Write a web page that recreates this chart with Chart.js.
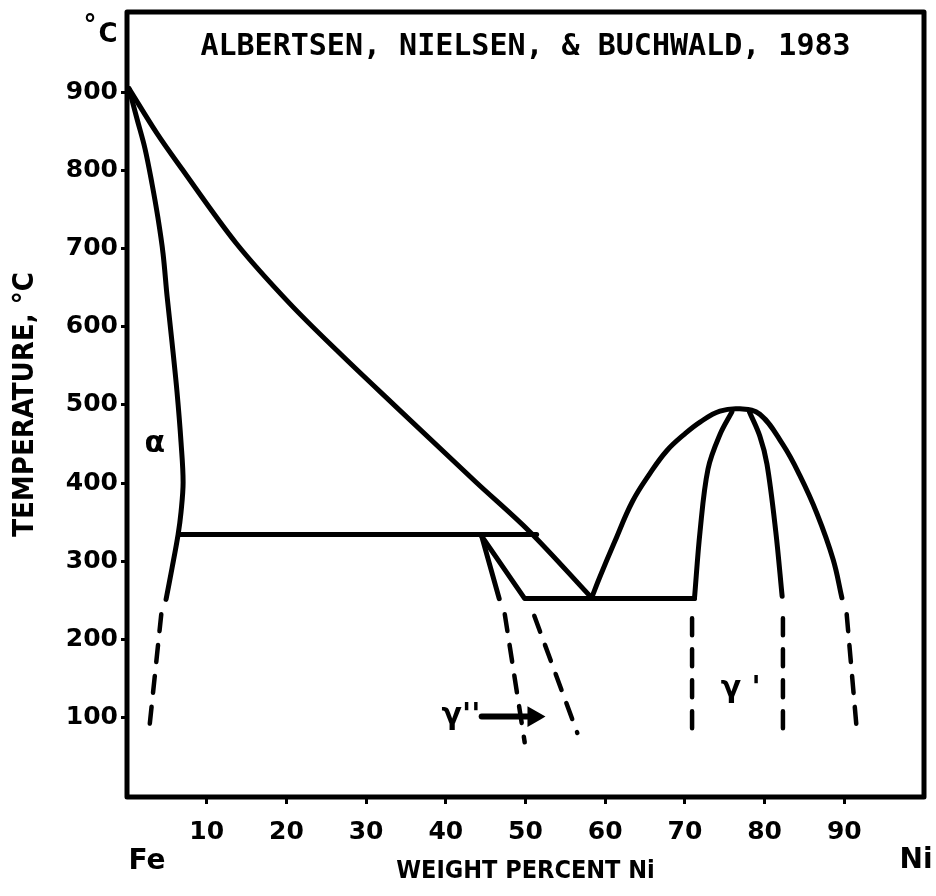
<!DOCTYPE html>
<html>
<head>
<meta charset="utf-8">
<script src="https://cdn.jsdelivr.net/npm/chart.js@4/dist/chart.umd.min.js"></script>
<style>
  html, body { margin: 0; padding: 0; background: #fff; }
  #wrap { width: 936px; height: 896px; }
</style>
</head>
<body>
<div id="wrap"><canvas id="phase-chart"></canvas></div>
<script>
// Fe-Ni phase diagram, low temperature part (weight % Ni vs temperature)
const xTickValues = [0, 10, 20, 30, 40, 50, 60, 70, 80, 90, 100];
const xTickLabels = ['Fe', '10', '20', '30', '40', '50', '60', '70', '80', '90', 'Ni'];
const yTickValues = [100, 200, 300, 400, 500, 600, 700, 800, 900];

// gamma / (alpha + gamma) boundary, from the top down to the eutectoid
const gammaBoundNi = [0.25, 3.8, 6.9, 13.7, 20.4, 26.6, 33.5, 43.8, 50.5, 58.3];
const gammaBoundT  = [905, 847, 802, 707, 630, 567, 500, 401, 338, 253];

// alpha / (alpha + gamma) boundary
const alphaBoundNi = [0.25, 1.26, 2.26, 3.14, 3.89, 4.52, 5.03, 5.65, 6.28, 6.78, 7.04, 6.78, 6.41, 5.65, 4.9];
const alphaBoundT  = [905, 866, 828, 783, 739, 694, 639, 580, 516, 452, 401, 363, 334, 291, 251];
const alphaDashNi = [4.3, 2.8];
const alphaDashT  = [232, 86];

// monotectoid tie line
const tieNi = [6.5, 51.4];
const tieT  = [334, 334];

// gamma'' (FeNi) boundaries
const fenLeftNi = [44.5, 46.7];
const fenLeftT  = [332, 252];
const fenLeftDashNi = [47.4, 49.9];
const fenLeftDashT  = [232, 68];
const fenRightNi = [44.5, 49.9, 71.2];
const fenRightT  = [332, 252, 252];
const fenRightDashNi = [51.1, 56.5];
const fenRightDashT  = [230, 80];

// gamma' (FeNi3) ordering dome
const domeNi = [58.3, 59.3, 61.2, 63.4, 65.6, 67.7, 70.0, 71.9, 74.4, 76.9, 79.4, 82.3, 84.4, 86.6, 88.6, 89.7];
const domeT  = [253, 279, 325, 376, 412, 441, 463, 478, 492, 495, 488, 449, 410, 360, 302, 253];
const domeDashNi = [90.3, 91.6];
const domeDashT  = [232, 80];
const innerLeftNi = [71.2, 71.9, 72.9, 74.4, 75.9];
const innerLeftT  = [252, 338, 418, 462, 491];
const innerLeftDashNi = [70.9, 70.9];
const innerLeftDashT  = [227, 86];
const innerRightNi = [78.1, 79.4, 80.3, 81.4, 82.2];
const innerRightT  = [491, 460, 424, 338, 255];
const innerRightDashNi = [82.3, 82.3];
const innerRightDashT  = [227, 81];

// arrow under the gamma'' label
const arrowNi = [44.5, 51.0];
const arrowT  = [101, 101];

// phase labels: text, Ni, T
const phaseLabels = [
  { text: 'α', ni: 3.5, t: 450 },
  { text: "γ''", ni: 41.9, t: 102 },
  { text: "γ '", ni: 77.0, t: 136 }
];

const pts = (xs, ys) => xs.map((x, i) => ({ x, y: ys[i] }));

const solid = (xs, ys) => ({
  data: pts(xs, ys),
  showLine: true,
  borderColor: '#000',
  borderWidth: 5,
  borderCapStyle: 'round',
  borderJoinStyle: 'round',
  pointRadius: 0,
  tension: 0
});

// smooth curves that run left to right
const curve = (xs, ys) => ({ ...solid(xs, ys), cubicInterpolationMode: 'monotone' });
// steep or arched curves
const bent = (xs, ys, t) => ({ ...solid(xs, ys), tension: t || 0.35 });

const dashed = (xs, ys) => ({
  ...solid(xs, ys),
  borderWidth: 4.5,
  borderDash: [17, 14]
});

const arrow = {
  ...solid(arrowNi, arrowT),
  borderWidth: 6,
  pointRadius: [0, 6],
  pointStyle: 'triangle',
  rotation: 90,
  pointBackgroundColor: '#000',
  pointBorderColor: '#000'
};

const datasets = [
  curve(gammaBoundNi, gammaBoundT),
  bent(alphaBoundNi, alphaBoundT),
  dashed(alphaDashNi, alphaDashT),
  solid(tieNi, tieT),
  solid(fenLeftNi, fenLeftT),
  dashed(fenLeftDashNi, fenLeftDashT),
  solid(fenRightNi, fenRightT),
  dashed(fenRightDashNi, fenRightDashT),
  bent(domeNi, domeT, 0.4),
  dashed(domeDashNi, domeDashT),
  bent(innerLeftNi, innerLeftT),
  dashed(innerLeftDashNi, innerLeftDashT),
  bent(innerRightNi, innerRightT),
  dashed(innerRightDashNi, innerRightDashT),
  arrow
];

const tickFont = { family: "'DejaVu Sans'", weight: 'bold', size: 25 };

// frame, heading and extra text
const decorations = {
  id: 'decorations',
  afterDatasetsDraw(chart) {
    const { ctx, chartArea: a, scales: { x, y } } = chart;
    ctx.save();
    ctx.strokeStyle = '#000';
    ctx.lineWidth = 5;
    ctx.lineJoin = 'round';
    ctx.strokeRect(a.left, a.top, a.right - a.left, a.bottom - a.top);

    ctx.fillStyle = '#000';
    ctx.textAlign = 'center';
    ctx.textBaseline = 'alphabetic';
    ctx.font = "bold 30px 'DejaVu Sans Mono'";
    ctx.fillText('ALBERTSEN, NIELSEN, & BUCHWALD, 1983', (a.left + a.right) / 2, a.top + 43);

    ctx.font = "bold 26px 'DejaVu Sans'";
    ctx.fillText('°', a.left - 37, a.top + 21);
    ctx.fillText('C', a.left - 19, a.top + 30);

    ctx.font = "bold 28px 'DejaVu Sans'";
    ctx.fillText(xTickLabels[0], x.getPixelForValue(xTickValues[0]) + 20, a.bottom + 72);
    ctx.fillText(xTickLabels[xTickLabels.length - 1], x.getPixelForValue(xTickValues[xTickValues.length - 1]) - 8, a.bottom + 71);

    ctx.font = "bold 30px 'DejaVu Sans'";
    ctx.textBaseline = 'middle';
    phaseLabels.forEach(l => {
      ctx.fillText(l.text, x.getPixelForValue(l.ni), y.getPixelForValue(l.t));
    });
    ctx.restore();
  }
};

new Chart(document.getElementById('phase-chart'), {
  type: 'scatter',
  data: { datasets },
  plugins: [decorations],
  options: {
    responsive: true,
    maintainAspectRatio: false,
    animation: false,
    layout: { padding: { top: 7, right: 12, left: 0, bottom: 0 } },
    plugins: { legend: { display: false }, tooltip: { enabled: false } },
    scales: {
      x: {
        type: 'linear',
        min: 0,
        max: 100,
        afterBuildTicks: scale => { scale.ticks = xTickValues.map(v => ({ value: v })); },
        afterFit: scale => {
          scale.height = 99;
          scale.paddingLeft = 0;
          scale.paddingRight = 0;
        },
        ticks: {
          color: '#000',
          font: tickFont,
          padding: 13,
          maxRotation: 0,
          callback: (v, i) => (i === 0 || i === xTickValues.length - 1) ? '' : xTickLabels[i]
        },
        grid: {
          drawOnChartArea: false,
          tickLength: 7,
          tickWidth: 3,
          color: c => (c.tick && (c.tick.value === 0 || c.tick.value === 100)) ? 'rgba(0,0,0,0)' : '#000'
        },
        border: { display: false },
        title: {
          display: true,
          text: 'WEIGHT PERCENT Ni',
          color: '#000',
          font: { family: "'DejaVu Sans'", weight: 'bold condensed', size: 25 },
          padding: { top: 0, bottom: 10 }
        }
      },
      y: {
        type: 'linear',
        min: -2,
        max: 1003,
        afterBuildTicks: scale => { scale.ticks = yTickValues.map(v => ({ value: v })); },
        afterFit: scale => {
          scale.width = 127;
          scale.paddingTop = 0;
          scale.paddingBottom = 0;
        },
        ticks: { color: '#000', font: { ...tickFont, lineHeight: 0.4 }, padding: 3 },
        grid: { drawOnChartArea: false, tickLength: 6, tickWidth: 3, color: '#000' },
        border: { display: false },
        title: {
          display: true,
          text: 'TEMPERATURE, °C',
          color: '#000',
          font: { family: "'DejaVu Sans'", weight: 'bold condensed', size: 29 },
          padding: { top: 8, bottom: 0 }
        }
      }
    }
  }
});
</script>
</body>
</html>
